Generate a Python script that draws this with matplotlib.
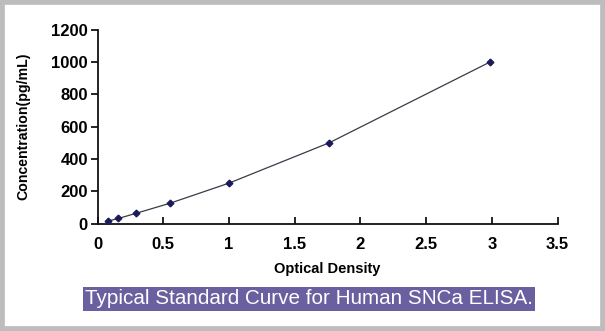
import matplotlib
matplotlib.use("Agg")
import matplotlib.pyplot as plt
from matplotlib.patches import Rectangle

# Standard curve readings
optical_density = [0.081, 0.158, 0.29, 0.549, 1.0, 1.763, 2.986]
concentration = [15.6, 31.2, 62.5, 125, 250, 500, 1000]
x_ticks = [0, 0.5, 1, 1.5, 2, 2.5, 3, 3.5]
x_tick_labels = ["0", "0.5", "1", "1.5", "2", "2.5", "3", "3.5"]
y_ticks = [0, 200, 400, 600, 800, 1000, 1200]
caption = "Typical Standard Curve for Human SNCa ELISA."

plt.rcParams["font.family"] = ["Liberation Sans", "DejaVu Sans"]

W, H = 605, 331
fig = plt.figure(figsize=(W / 100, H / 100), dpi=100)
fig.patch.set_facecolor("white")

# grey frame around the figure
frame_col = "#bdbdbd"
fig.patches.append(Rectangle((0, 0), 1, 1, transform=fig.transFigure,
                             facecolor="none", edgecolor=frame_col,
                             linewidth=7, zorder=0))

ax = fig.add_axes([97.6 / W, (H - 223.5) / H, 460 / W, 193.8 / H])
ax.plot(optical_density, concentration, color="#3a3a4a", linewidth=0.9,
        marker="D", markersize=3.4, markerfacecolor="#1b1b5a",
        markeredgecolor="#1b1b5a", zorder=3)

ax.set_xlim(0, 3.5)
ax.set_ylim(0, 1200)
ax.set_xticks(x_ticks)
ax.set_xticklabels(x_tick_labels)
ax.set_yticks(y_ticks)
for s in ("top", "right"):
    ax.spines[s].set_visible(False)
for s in ("left", "bottom"):
    ax.spines[s].set_linewidth(1.3)
    ax.spines[s].set_color("#111111")
ax.tick_params(axis="x", direction="in", length=5, width=1.2, pad=10,
               labelsize=12)
ax.tick_params(axis="y", direction="out", length=5, width=1.2, pad=2,
               labelsize=12)
for lab in ax.get_xticklabels() + ax.get_yticklabels():
    lab.set_fontweight("bold")

ax.set_xlabel("Optical Density", fontsize=10.5, fontweight="bold", labelpad=7)
ax.set_ylabel("Concentration(pg/mL)", fontsize=10.2, fontweight="bold",
              labelpad=15)

fig.text(85 / W, 1 - 299 / H, caption, color="white", fontsize=14.9,
         ha="left", va="center",
         bbox=dict(boxstyle="square,pad=0.1", facecolor="#6a5f9f",
                   edgecolor="none"))

fig.savefig("out.png", dpi=100)
